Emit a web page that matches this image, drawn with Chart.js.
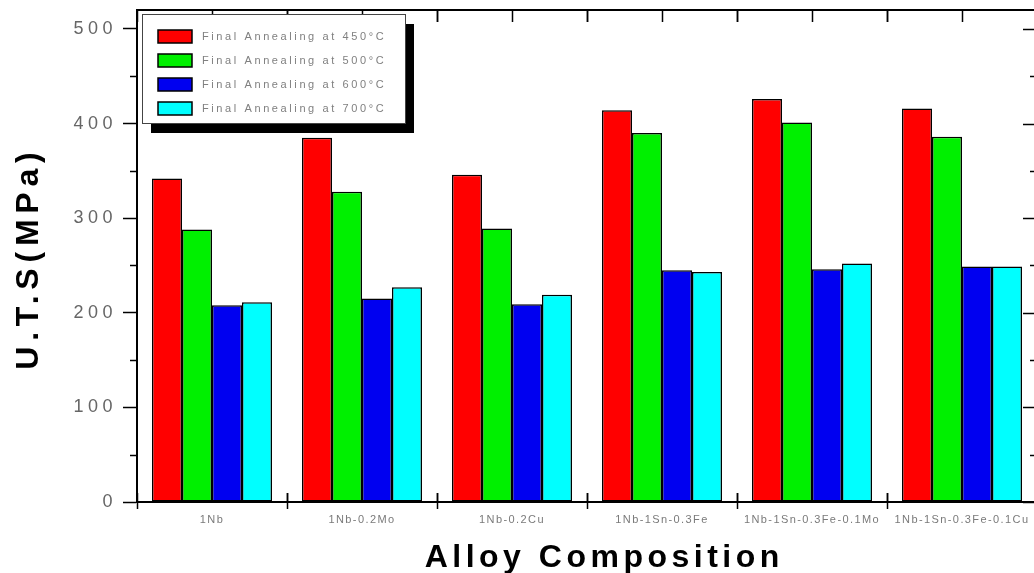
<!DOCTYPE html>
<html><head><meta charset="utf-8">
<script src="https://cdn.jsdelivr.net/npm/chart.js@4"></script>
<style>
html,body{margin:0;padding:0;overflow:hidden;background:#fff;width:1034px;height:573px}
#wrap{width:1040px;height:573px;position:relative}
canvas{display:block}
</style>
</head><body>
<div id="wrap"><canvas id="c" width="1040" height="573" style="width:1040px;height:573px"></canvas></div>
<script>
const categories = ['1Nb', '1Nb-0.2Mo', '1Nb-0.2Cu', '1Nb-1Sn-0.3Fe', '1Nb-1Sn-0.3Fe-0.1Mo', '1Nb-1Sn-0.3Fe-0.1Cu'];
const seriesLabels = ['Final Annealing at 450°C', 'Final Annealing at 500°C', 'Final Annealing at 600°C', 'Final Annealing at 700°C'];
const uts450 = [342, 385, 346, 414, 426, 416];
const uts500 = [288, 328, 289, 390, 401, 386];
const uts600 = [208, 215, 209, 245, 246, 249];
const uts700 = [211, 227, 219, 243, 252, 249];
const seriesColors = ['#ff0000', '#00f000', '#0000f0', '#00ffff'];
const yTicks = [0, 100, 200, 300, 400, 500];
const yMinorTicks = [50, 150, 250, 350, 450];
const yTitle = 'U.T.S(MPa)';
const xTitle = 'Alloy Composition';

const FONT = "'Liberation Sans', Arial, sans-serif";
const LS = {18: 4.5, 11: 1.4};

function patchCtx(ctx) {
  if (ctx.__patched) return;
  const orig = ctx.fillText;
  ctx.__origFill = orig;
  ctx.fillText = function (t, x, y, mw) {
    const m = /(\d+(?:\.\d+)?)px/.exec(this.font);
    const s = m ? LS[Math.round(+m[1])] : 0;
    this.letterSpacing = (s || 0) + 'px';
    if (mw === undefined || mw === null) return orig.call(this, t, x, y);
    return orig.call(this, t, x, y, mw);
  };
  ctx.__patched = true;
}

const framePlugin = {
  id: 'frame',
  beforeDraw(chart) { patchCtx(chart.ctx); },
  afterDatasetsDraw(chart) {
    const {ctx, chartArea: a, scales: {x, y}} = chart;
    ctx.save();
    ctx.strokeStyle = '#000';
    ctx.lineWidth = 2;
    ctx.beginPath();
    ctx.moveTo(a.left, a.top); ctx.lineTo(a.right, a.top); ctx.lineTo(a.right, a.bottom);
    ctx.stroke();
    ctx.lineWidth = 1.5;
    const seg = (x1, y1, x2, y2) => { ctx.beginPath(); ctx.moveTo(x1, y1); ctx.lineTo(x2, y2); ctx.stroke(); };
    yMinorTicks.forEach(v => { const py = Math.round(y.getPixelForValue(v)) + 0.5; seg(a.left - 7, py, a.left, py); seg(a.right - 7, py, a.right, py); });
    yTicks.forEach(v => { const py = Math.round(y.getPixelForValue(v)) + 0.5; seg(a.right - 14, py, a.right, py); });
    const cw = x.getPixelForValue(1) - x.getPixelForValue(0);
    categories.forEach((c, i) => {
      const cx = x.getPixelForValue(i);
      [cx - cw / 2, cx, cx + cw / 2].forEach(px => { const p = Math.round(px) + 0.5; seg(p, a.top, p, a.top + 12); });
      [cx - cw / 2, cx + cw / 2].forEach(px => { const p = Math.round(px) + 0.5; seg(p, a.bottom - 9, p, a.bottom); });
    });
    ctx.restore();
  },
  afterDraw(chart) {
    const ctx = chart.ctx;
    const fill = ctx.__origFill || ctx.fillText;
    ctx.save();
    const L = {x: 142, y: 14, w: 263, h: 109, dx: 9, dy: 10};
    ctx.fillStyle = '#000';
    ctx.fillRect(L.x + L.dx, L.y + L.dy, L.w, L.h);
    ctx.fillStyle = '#fff';
    ctx.fillRect(L.x, L.y, L.w, L.h);
    ctx.strokeStyle = '#444';
    ctx.lineWidth = 1;
    ctx.strokeRect(L.x + 0.5, L.y + 0.5, L.w, L.h);
    chart.data.datasets.forEach((ds, i) => {
      const cy = 36.5 + 24 * i;
      ctx.fillStyle = ds.backgroundColor;
      ctx.fillRect(158, cy - 6.5, 34, 13);
      ctx.strokeStyle = '#000';
      ctx.lineWidth = 1.5;
      ctx.strokeRect(158, cy - 6.5, 34, 13);
      ctx.font = '11px ' + FONT;
      ctx.letterSpacing = '2.6px';
      ctx.fillStyle = '#808080';
      ctx.textAlign = 'left';
      ctx.textBaseline = 'middle';
      fill.call(ctx, ds.label, 202, cy + 0.5);
    });
    ctx.fillStyle = '#000';
    ctx.font = 'bold 32px ' + FONT;
    ctx.textBaseline = 'alphabetic';
    ctx.textAlign = 'left';
    ctx.letterSpacing = '4.5px';
    let w = ctx.measureText(xTitle).width - 4.5;
    fill.call(ctx, xTitle, 602 - w / 2, 567);
    ctx.letterSpacing = '5.8px';
    w = ctx.measureText(yTitle).width - 5.8;
    ctx.translate(38, 261);
    ctx.rotate(-Math.PI / 2);
    fill.call(ctx, yTitle, -w / 2, 0);
    ctx.restore();
  }
};

const datasetValues = [uts450, uts500, uts600, uts700];
const chart = new Chart(document.getElementById('c'), {
  type: 'bar',
  data: {
    labels: categories,
    datasets: datasetValues.map((vals, i) => ({
      label: seriesLabels[i],
      data: vals,
      backgroundColor: seriesColors[i],
      borderColor: '#000',
      borderWidth: 1.5,
      borderSkipped: false,
      categoryPercentage: 0.8,
      barPercentage: 1.0
    }))
  },
  options: {
    responsive: false,
    animation: false,
    devicePixelRatio: 1,
    layout: {padding: {left: 0, right: 3, top: 10, bottom: 0}},
    plugins: {legend: {display: false}, title: {display: false}, tooltip: {enabled: false}},
    scales: {
      x: {
        grid: {display: true, drawOnChartArea: false, drawTicks: true, tickLength: 7, tickColor: '#000', tickWidth: 1.5, color: '#000'},
        border: {display: true, color: '#000', width: 2},
        ticks: {color: '#7a7a7a', font: {family: FONT, size: 11}, padding: 4, maxRotation: 0, autoSkip: false},
        afterFit(s) { s.height = 71; s.paddingLeft = 0; s.paddingRight = 0; }
      },
      y: {
        min: 0, max: 520,
        afterBuildTicks(s) { s.ticks = yTicks.map(v => ({value: v})); },
        grid: {display: true, drawOnChartArea: false, drawTicks: true, tickLength: 14, tickColor: '#000', tickWidth: 1.5, color: '#000'},
        border: {display: true, color: '#000', width: 2},
        ticks: {color: '#666', font: {family: FONT, size: 18}, padding: 6},
        afterFit(s) { s.width = 137; s.paddingTop = 0; s.paddingBottom = 0; }
      }
    }
  },
  plugins: [framePlugin]
});
</script>
</body></html>
